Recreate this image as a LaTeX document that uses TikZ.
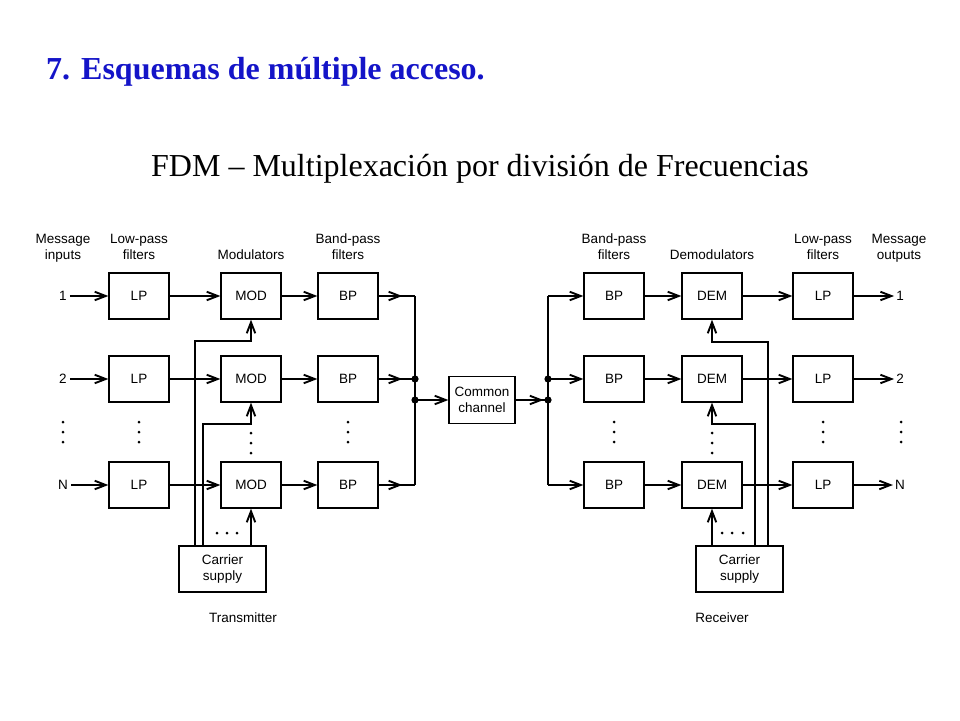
\documentclass[tikz,border=0pt]{standalone}
\usepackage{fontspec}
\setmainfont{Liberation Serif}
\setsansfont{Liberation Sans}
\usepackage{tikz}
\usetikzlibrary{arrows.meta,decorations.markings}
\definecolor{titleblue}{RGB}{20,20,200}
\newcommand{\Txbus}{415}
\newcommand{\Rxbus}{548}
\newcommand{\Jy}{400}

\begin{document}
\begin{tikzpicture}[x=1pt,y=-1pt,
    >={Straight Barb[length=11pt,width=8.5pt]},
    blk/.style={draw,line width=1.3pt,minimum width=60pt,minimum height=46pt,inner sep=0pt,align=center,font=\sffamily\fontsize{13.5}{16}\selectfont},
    lbl/.style={inner sep=3pt,align=center,font=\sffamily\fontsize{13.5}{16}\selectfont},
    sig/.style={line width=1.9pt,->},
    wire/.style={line width=1.9pt},
    midsig/.style={wire,postaction={decorate},decoration={markings,mark=at position #1 with {\arrow{>}}}}]
    \useasboundingbox (0,0) rectangle (960,720);

    % titles
    \path (46,79) node (T1) [anchor=base west,inner sep=0pt,text=titleblue,font=\bfseries\fontsize{32}{38}\selectfont]{7.\hspace{11pt}Esquemas de múltiple acceso.};
    \path (480,176) node (T2) [anchor=base,inner sep=0pt,font=\fontsize{32}{38}\selectfont]{FDM -- Multiplexación por división de Frecuencias};

    % column headings
    \path (63,259) node (H1) [lbl,anchor=base]{Message\\inputs};
    \path (139,259) node (H2) [lbl,anchor=base]{Low-pass\\filters};
    \path (251,259) node (H3) [lbl,anchor=base]{Modulators};
    \path (348,259) node (H4) [lbl,anchor=base]{Band-pass\\filters};
    \path (614,259) node (H5) [lbl,anchor=base]{Band-pass\\filters};
    \path (712,259) node (H6) [lbl,anchor=base]{Demodulators};
    \path (823,259) node (H7) [lbl,anchor=base]{Low-pass\\filters};
    \path (899,259) node (H8) [lbl,anchor=base]{Message\\outputs};
    \path (243,618) node (H9) [lbl]{Transmitter};
    \path (722,618) node (H10) [lbl]{Receiver};

    % the three rows
    \foreach \R/\Y/\T in {1/296/1,2/379/2,3/485/N}{
        \path (63,\Y) node (in\R) [lbl]{\T};
        \path (139,\Y) node (lpt\R) [blk]{LP};
        \path (251,\Y) node (mod\R) [blk]{MOD};
        \path (348,\Y) node (bpt\R) [blk]{BP};
        \path (614,\Y) node (bpr\R) [blk]{BP};
        \path (712,\Y) node (dem\R) [blk]{DEM};
        \path (823,\Y) node (lpr\R) [blk]{LP};
        \path (900,\Y) node (out\R) [lbl,inner sep=2pt]{\T};
        \path (\Txbus,\Y) coordinate (tb\R);
        \path (\Rxbus,\Y) coordinate (rb\R);
        \draw [sig] (in\R) -- (lpt\R);
        \draw [sig] (lpt\R) -- (mod\R);
        \draw [sig] (mod\R) -- (bpt\R);
        \draw [midsig=0.65] (bpt\R) -- (tb\R);
        \draw [sig] (rb\R) -- (bpr\R);
        \draw [sig] (bpr\R) -- (dem\R);
        \draw [sig] (dem\R) -- (lpr\R);
        \draw [sig] (lpr\R) -- (out\R);
    }

    % common channel and the two buses
    \path (482,400) node (CC) [blk,minimum width=66pt,minimum height=47pt]{Common\\channel};
    \path (\Txbus,\Jy) coordinate (tj);
    \path (\Rxbus,\Jy) coordinate (rj);
    \draw [wire] (tb1) -- (tb3);
    \draw [wire] (rb1) -- (rb3);
    \draw [sig] (tj) -- (CC);
    \draw [midsig=0.86] (CC) -- (rj);
    \foreach \P in {tb2,tj,rb2,rj}{
        \fill (\P) circle (3.6pt);
    }

    % carrier supplies
    \path (222.5,569) node (CST) [blk,minimum width=87pt]{Carrier\\supply};
    \path (739.5,569) node (CSR) [blk,minimum width=87pt]{Carrier\\supply};
    \path (251,341) coordinate (kt1);
    \path (251,424) coordinate (kt2);
    \path (712,342) coordinate (kr1);
    \path (712,424) coordinate (kr2);
    \draw [sig] (CST.north -| 195,0) |- (kt1) -- (mod1);
    \draw [sig] (CST.north -| 203,0) |- (kt2) -- (mod2);
    \draw [sig] (CST.north -| mod3) -- (mod3);
    \draw [sig] (CSR.north -| 768,0) |- (kr1) -- (dem1);
    \draw [sig] (CSR.north -| 755,0) |- (kr2) -- (dem2);
    \draw [sig] (CSR.north -| dem3) -- (dem3);

    % dots
    \foreach \X in {63,139,348,614,823,901}{
        \foreach \Y in {422,432,442}{
            \fill (\X,\Y) circle (1.5pt);
        }
    }
    \foreach \X in {251,712}{
        \foreach \Y in {433,443,453}{
            \fill (\X,\Y) circle (1.5pt);
        }
    }
    \foreach \X in {217,227,237,722,732,743}{
        \fill (\X,533) circle (1.5pt);
    }
\end{tikzpicture}
\end{document}
